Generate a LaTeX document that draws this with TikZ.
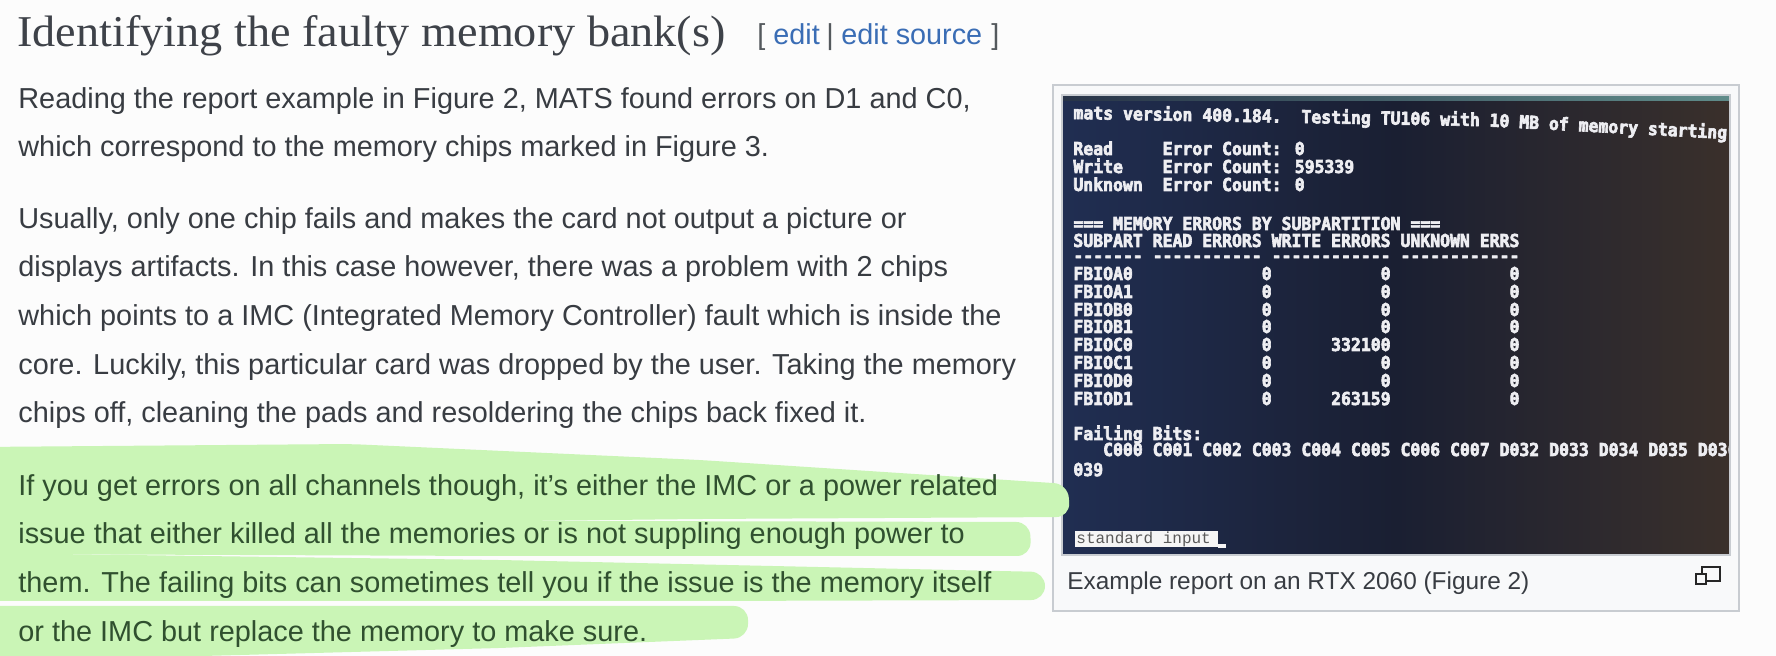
\documentclass[tikz,border=0pt]{standalone}
\usepackage{fontspec}
\setmainfont{Liberation Sans}
\newfontfamily\headfont{Liberation Serif}[FakeStretch=1.05]
\newfontfamily\scrfont{DejaVu Sans Mono}[FakeStretch=0.925, FakeBold=3.5]
\newfontfamily\stdinfont{Liberation Mono}
\definecolor{bodytext}{HTML}{383C42}
\definecolor{headtext}{HTML}{3E4249}
\definecolor{hltext}{HTML}{30502F}
\definecolor{hl}{HTML}{CAF5B6}
\definecolor{linkc}{HTML}{3A6DB5}
\definecolor{bracketc}{HTML}{54595D}
\definecolor{pagebg}{HTML}{FCFCFC}
\definecolor{thumbbg}{HTML}{F8F9FA}
\definecolor{thumbborder}{HTML}{C8CCD1}
\definecolor{scrtext}{HTML}{EEEEF2}
\definecolor{scrleft}{RGB}{32,46,82}
\definecolor{scrmid}{RGB}{26,31,50}
\definecolor{scrright}{RGB}{58,48,43}
\definecolor{bezelL}{RGB}{40,52,72}
\definecolor{bezelR}{RGB}{95,140,138}
\begin{document}
\begin{tikzpicture}[x=0.5pt,y=-0.5pt,
  bodyline/.style={anchor=base west, inner sep=0pt, font=\fontsize{14.43}{17}\selectfont, text=bodytext},
  hlline/.style={bodyline, text=hltext},
  scrline/.style={anchor=base west, inner sep=0pt, font=\scrfont\bfseries\fontsize{8.9}{10}\selectfont, text=scrtext},
  editpart/.style={anchor=base west, inner sep=0pt, font=\fontsize{14.4}{17}\selectfont},
  hlband/.style={fill=hl, rounded corners=7pt}
]
\useasboundingbox (0,0) rectangle (1776,656);
\fill[pagebg] (0,0) rectangle (1776,656);

% ---------- heading ----------
\node[anchor=base west, inner sep=0pt, font=\headfont\fontsize{22}{26}\selectfont, text=headtext] (head) at (17,47) {Identifying the faulty memory bank(s)};
\node[editpart, text=bracketc] (eb1) at (757,45) {[};
\node[editpart, text=linkc] (el1) at (773,45) {edit};
\node[editpart, text=bracketc] (ediv) at (826,45) {|};
\node[editpart, text=linkc] (el2) at (841,45) {edit source};
\node[editpart, text=bracketc] (eb2) at (991,45) {]};

% ---------- thumbnail ----------
\draw[thumbborder, fill=thumbbg, line width=1pt] (1052.5,85.5) rectangle (1738.5,611.5) ;
\begin{scope}
  \clip (1062,95) rectangle (1730,555);
  \shade[left color=scrleft, right color=scrright, middle color=scrmid] (1062,95) rectangle (1730,555);
  \shade[left color=bezelL, right color=bezelR] (1062,95) rectangle (1730,101);
  \node[scrline, rotate=-1] (s1a) at (1073,119) {mats version 400.184.~~Testing TU106 with};
  \node[scrline, rotate=-3] (s1b) at (1479,126) {~10 MB of memory starting w};
  \node[scrline] (s2) at (1073,155) {Read~~~~~Error Count: 0};
  \node[scrline] (s3) at (1073,173) {Write~~~~Error Count: 595339};
  \node[scrline] (s4) at (1073,191) {Unknown~~Error Count: 0};
  \node[scrline] (s5) at (1073,230) {=== MEMORY ERRORS BY SUBPARTITION ===};
  \node[scrline] (s6) at (1073,247) {SUBPART READ ERRORS WRITE ERRORS UNKNOWN ERRS};
  \node[scrline] (s7) at (1073,262) {-------~-----------~------------~------------};
  \node[scrline] (s8) at (1073,280) {FBIOA0~~~~~~~~~~~~~0~~~~~~~~~~~0~~~~~~~~~~~~0};
  \node[scrline] (s9) at (1073,298) {FBIOA1~~~~~~~~~~~~~0~~~~~~~~~~~0~~~~~~~~~~~~0};
  \node[scrline] (s10) at (1073,316) {FBIOB0~~~~~~~~~~~~~0~~~~~~~~~~~0~~~~~~~~~~~~0};
  \node[scrline] (s11) at (1073,333) {FBIOB1~~~~~~~~~~~~~0~~~~~~~~~~~0~~~~~~~~~~~~0};
  \node[scrline] (s12) at (1073,351) {FBIOC0~~~~~~~~~~~~~0~~~~~~332100~~~~~~~~~~~~0};
  \node[scrline] (s13) at (1073,369) {FBIOC1~~~~~~~~~~~~~0~~~~~~~~~~~0~~~~~~~~~~~~0};
  \node[scrline] (s14) at (1073,387) {FBIOD0~~~~~~~~~~~~~0~~~~~~~~~~~0~~~~~~~~~~~~0};
  \node[scrline] (s15) at (1073,405) {FBIOD1~~~~~~~~~~~~~0~~~~~~263159~~~~~~~~~~~~0};
  \node[scrline] (s16) at (1073,440) {Failing Bits:};
  \node[scrline] (s17) at (1073,456) {~~~C000 C001 C002 C003 C004 C005 C006 C007 D032 D033 D034 D035 D036 D};
  \node[scrline] (s18) at (1073,476) {039};
  \fill[white!92!gray] (1075,531) rectangle (1218,547);
  \fill[white!92!gray] (1218,544) rectangle (1226,548);
  \node[anchor=base west, inner sep=0pt, font=\stdinfont\fontsize{8}{10}\selectfont, text=black!65] (stdin) at (1076,544) {standard input};
\end{scope}
\draw[thumbborder, line width=0.8pt] (1062,95) rectangle (1730,555);
\node[anchor=base west, inner sep=0pt, font=\fontsize{12.2}{14}\selectfont, text=bodytext] (cap) at (1067,590) {Example report on an RTX 2060 (Figure 2)};
% magnify icon
\draw[black!85, line width=0.8pt] (1702,567) rectangle (1720,581);
\draw[black!85, fill=thumbbg, line width=0.8pt] (1696,574) rectangle (1706,584);

% ---------- highlight ----------
\fill[hlband] (-20,447) -- (350,444) -- (700,460) -- (1068,484) -- (1070,517) -- (700,519) -- (-20,527) -- cycle;
\fill[hlband] (-20,520) -- (600,521) -- (1030,522) -- (1031,556) -- (500,556) -- (-20,554) -- cycle;
\fill[hlband] (-20,553) -- (500,560) -- (1045,572) -- (1045,600) -- (700,601) -- (-20,601) -- cycle;
\fill[hlband] (-20,606) -- (748,606) -- (748,638) -- (500,648) -- (-20,662) -- cycle;

% ---------- body text ----------
\node[bodyline] (l1) at (18,109) {Reading the report example in Figure 2, MATS found errors on D1 and C0,};
\node[bodyline] (l2) at (18,157) {which correspond to the memory chips marked in Figure 3.};
\node[bodyline] (l3) at (18,229) {Usually, only one chip fails and makes the card not output a picture or};
\node[bodyline] (l4) at (18,277) {displays artifacts. In this case however, there was a problem with 2 chips};
\node[bodyline] (l5) at (18,326) {which points to a IMC (Integrated Memory Controller) fault which is inside the};
\node[bodyline] (l6) at (18,375) {core. Luckily, this particular card was dropped by the user. Taking the memory};
\node[bodyline] (l7) at (18,423) {chips off, cleaning the pads and resoldering the chips back fixed it.};
\node[hlline] (l8) at (18,496) {If you get errors on all channels though, it's either the IMC or a power related};
\node[hlline] (l9) at (18,544) {issue that either killed all the memories or is not suppling enough power to};
\node[hlline] (l10) at (18,593) {them. The failing bits can sometimes tell you if the issue is the memory itself};
\node[hlline] (l11) at (18,641) {or the IMC but replace the memory to make sure.};
\end{tikzpicture}
\end{document}
